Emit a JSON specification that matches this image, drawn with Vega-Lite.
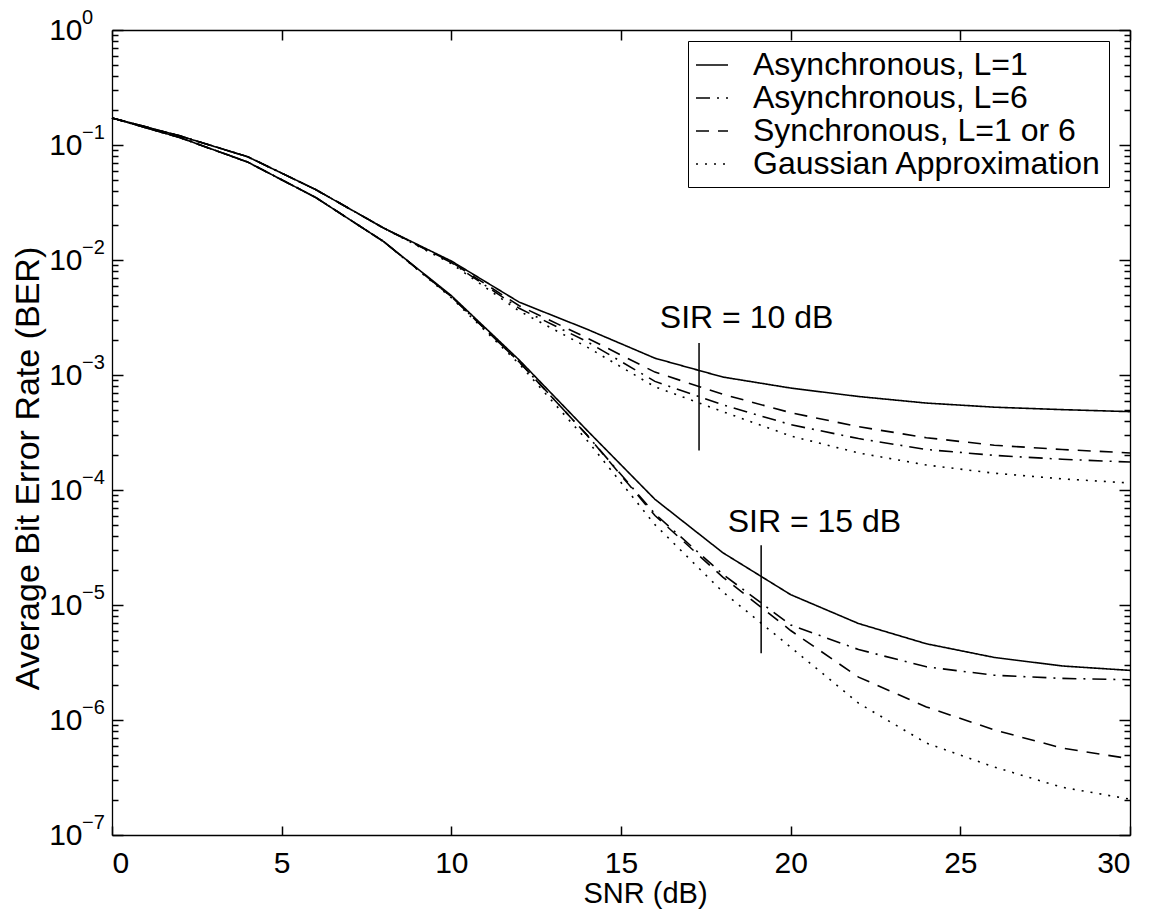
{
  "$schema": "https://vega.github.io/schema/vega-lite/v6.json",
  "width": 1018,
  "height": 805,
  "autosize": {"type": "none"},
  "padding": {"left": 112, "top": 30, "right": 29, "bottom": 81},
  "background": "white",
  "config": {
    "font": "Liberation Sans",
    "view": {"stroke": null},
    "axis": {
      "domainColor": "black", "tickColor": "black", "labelColor": "black", "titleColor": "black",
      "grid": false, "labelFont": "Liberation Sans", "titleFont": "Liberation Sans",
      "labelFontSize": 30, "titleFontSize": 30, "titleFontWeight": "normal",
      "domainWidth": 1.3, "tickWidth": 1.5, "ticks": true
    }
  },
  "datasets": {
    "curves": [
      {"snr": 0, "ber": 0.172, "series": "Asynchronous, L=1", "sir": "10"},
      {"snr": 2, "ber": 0.120, "series": "Asynchronous, L=1", "sir": "10"},
      {"snr": 4, "ber": 0.079, "series": "Asynchronous, L=1", "sir": "10"},
      {"snr": 6, "ber": 0.041, "series": "Asynchronous, L=1", "sir": "10"},
      {"snr": 8, "ber": 0.019, "series": "Asynchronous, L=1", "sir": "10"},
      {"snr": 10, "ber": 0.0098, "series": "Asynchronous, L=1", "sir": "10"},
      {"snr": 12, "ber": 0.0043, "series": "Asynchronous, L=1", "sir": "10"},
      {"snr": 14, "ber": 0.0025, "series": "Asynchronous, L=1", "sir": "10"},
      {"snr": 16, "ber": 0.0014, "series": "Asynchronous, L=1", "sir": "10"},
      {"snr": 18, "ber": 0.00096, "series": "Asynchronous, L=1", "sir": "10"},
      {"snr": 20, "ber": 0.00077, "series": "Asynchronous, L=1", "sir": "10"},
      {"snr": 22, "ber": 0.00065, "series": "Asynchronous, L=1", "sir": "10"},
      {"snr": 24, "ber": 0.00057, "series": "Asynchronous, L=1", "sir": "10"},
      {"snr": 26, "ber": 0.000525, "series": "Asynchronous, L=1", "sir": "10"},
      {"snr": 28, "ber": 0.0005, "series": "Asynchronous, L=1", "sir": "10"},
      {"snr": 30, "ber": 0.00048, "series": "Asynchronous, L=1", "sir": "10"},

      {"snr": 0, "ber": 0.172, "series": "Asynchronous, L=6", "sir": "10"},
      {"snr": 2, "ber": 0.120, "series": "Asynchronous, L=6", "sir": "10"},
      {"snr": 4, "ber": 0.079, "series": "Asynchronous, L=6", "sir": "10"},
      {"snr": 6, "ber": 0.041, "series": "Asynchronous, L=6", "sir": "10"},
      {"snr": 8, "ber": 0.019, "series": "Asynchronous, L=6", "sir": "10"},
      {"snr": 10, "ber": 0.0095, "series": "Asynchronous, L=6", "sir": "10"},
      {"snr": 12, "ber": 0.0038, "series": "Asynchronous, L=6", "sir": "10"},
      {"snr": 14, "ber": 0.00195, "series": "Asynchronous, L=6", "sir": "10"},
      {"snr": 16, "ber": 0.00088, "series": "Asynchronous, L=6", "sir": "10"},
      {"snr": 18, "ber": 0.00055, "series": "Asynchronous, L=6", "sir": "10"},
      {"snr": 20, "ber": 0.00037, "series": "Asynchronous, L=6", "sir": "10"},
      {"snr": 22, "ber": 0.00028, "series": "Asynchronous, L=6", "sir": "10"},
      {"snr": 24, "ber": 0.000225, "series": "Asynchronous, L=6", "sir": "10"},
      {"snr": 26, "ber": 0.0002, "series": "Asynchronous, L=6", "sir": "10"},
      {"snr": 28, "ber": 0.000185, "series": "Asynchronous, L=6", "sir": "10"},
      {"snr": 30, "ber": 0.000175, "series": "Asynchronous, L=6", "sir": "10"},

      {"snr": 0, "ber": 0.172, "series": "Synchronous, L=1 or 6", "sir": "10"},
      {"snr": 2, "ber": 0.120, "series": "Synchronous, L=1 or 6", "sir": "10"},
      {"snr": 4, "ber": 0.079, "series": "Synchronous, L=1 or 6", "sir": "10"},
      {"snr": 6, "ber": 0.041, "series": "Synchronous, L=1 or 6", "sir": "10"},
      {"snr": 8, "ber": 0.019, "series": "Synchronous, L=1 or 6", "sir": "10"},
      {"snr": 10, "ber": 0.0096, "series": "Synchronous, L=1 or 6", "sir": "10"},
      {"snr": 12, "ber": 0.0040, "series": "Synchronous, L=1 or 6", "sir": "10"},
      {"snr": 14, "ber": 0.0021, "series": "Synchronous, L=1 or 6", "sir": "10"},
      {"snr": 16, "ber": 0.00106, "series": "Synchronous, L=1 or 6", "sir": "10"},
      {"snr": 18, "ber": 0.00068, "series": "Synchronous, L=1 or 6", "sir": "10"},
      {"snr": 20, "ber": 0.00047, "series": "Synchronous, L=1 or 6", "sir": "10"},
      {"snr": 22, "ber": 0.000355, "series": "Synchronous, L=1 or 6", "sir": "10"},
      {"snr": 24, "ber": 0.000285, "series": "Synchronous, L=1 or 6", "sir": "10"},
      {"snr": 26, "ber": 0.000245, "series": "Synchronous, L=1 or 6", "sir": "10"},
      {"snr": 28, "ber": 0.000225, "series": "Synchronous, L=1 or 6", "sir": "10"},
      {"snr": 30, "ber": 0.00021, "series": "Synchronous, L=1 or 6", "sir": "10"},

      {"snr": 0, "ber": 0.172, "series": "Gaussian Approximation", "sir": "10"},
      {"snr": 2, "ber": 0.120, "series": "Gaussian Approximation", "sir": "10"},
      {"snr": 4, "ber": 0.079, "series": "Gaussian Approximation", "sir": "10"},
      {"snr": 6, "ber": 0.041, "series": "Gaussian Approximation", "sir": "10"},
      {"snr": 8, "ber": 0.019, "series": "Gaussian Approximation", "sir": "10"},
      {"snr": 10, "ber": 0.0093, "series": "Gaussian Approximation", "sir": "10"},
      {"snr": 12, "ber": 0.0036, "series": "Gaussian Approximation", "sir": "10"},
      {"snr": 14, "ber": 0.00175, "series": "Gaussian Approximation", "sir": "10"},
      {"snr": 16, "ber": 0.00079, "series": "Gaussian Approximation", "sir": "10"},
      {"snr": 18, "ber": 0.00048, "series": "Gaussian Approximation", "sir": "10"},
      {"snr": 20, "ber": 0.000295, "series": "Gaussian Approximation", "sir": "10"},
      {"snr": 22, "ber": 0.00021, "series": "Gaussian Approximation", "sir": "10"},
      {"snr": 24, "ber": 0.000165, "series": "Gaussian Approximation", "sir": "10"},
      {"snr": 26, "ber": 0.00014, "series": "Gaussian Approximation", "sir": "10"},
      {"snr": 28, "ber": 0.000125, "series": "Gaussian Approximation", "sir": "10"},
      {"snr": 30, "ber": 0.000115, "series": "Gaussian Approximation", "sir": "10"},

      {"snr": 0, "ber": 0.172, "series": "Asynchronous, L=1", "sir": "15"},
      {"snr": 2, "ber": 0.116, "series": "Asynchronous, L=1", "sir": "15"},
      {"snr": 4, "ber": 0.071, "series": "Asynchronous, L=1", "sir": "15"},
      {"snr": 6, "ber": 0.035, "series": "Asynchronous, L=1", "sir": "15"},
      {"snr": 8, "ber": 0.0145, "series": "Asynchronous, L=1", "sir": "15"},
      {"snr": 10, "ber": 0.0049, "series": "Asynchronous, L=1", "sir": "15"},
      {"snr": 12, "ber": 0.00135, "series": "Asynchronous, L=1", "sir": "15"},
      {"snr": 14, "ber": 0.00033, "series": "Asynchronous, L=1", "sir": "15"},
      {"snr": 16, "ber": 0.000083, "series": "Asynchronous, L=1", "sir": "15"},
      {"snr": 18, "ber": 0.0000285, "series": "Asynchronous, L=1", "sir": "15"},
      {"snr": 20, "ber": 0.0000123, "series": "Asynchronous, L=1", "sir": "15"},
      {"snr": 22, "ber": 0.0000069, "series": "Asynchronous, L=1", "sir": "15"},
      {"snr": 24, "ber": 0.0000046, "series": "Asynchronous, L=1", "sir": "15"},
      {"snr": 26, "ber": 0.0000035, "series": "Asynchronous, L=1", "sir": "15"},
      {"snr": 28, "ber": 0.00000295, "series": "Asynchronous, L=1", "sir": "15"},
      {"snr": 30, "ber": 0.0000027, "series": "Asynchronous, L=1", "sir": "15"},

      {"snr": 0, "ber": 0.172, "series": "Asynchronous, L=6", "sir": "15"},
      {"snr": 2, "ber": 0.116, "series": "Asynchronous, L=6", "sir": "15"},
      {"snr": 4, "ber": 0.071, "series": "Asynchronous, L=6", "sir": "15"},
      {"snr": 6, "ber": 0.035, "series": "Asynchronous, L=6", "sir": "15"},
      {"snr": 8, "ber": 0.0145, "series": "Asynchronous, L=6", "sir": "15"},
      {"snr": 10, "ber": 0.0048, "series": "Asynchronous, L=6", "sir": "15"},
      {"snr": 12, "ber": 0.0013, "series": "Asynchronous, L=6", "sir": "15"},
      {"snr": 14, "ber": 0.0003, "series": "Asynchronous, L=6", "sir": "15"},
      {"snr": 16, "ber": 0.000062, "series": "Asynchronous, L=6", "sir": "15"},
      {"snr": 18, "ber": 0.0000185, "series": "Asynchronous, L=6", "sir": "15"},
      {"snr": 20, "ber": 0.0000067, "series": "Asynchronous, L=6", "sir": "15"},
      {"snr": 22, "ber": 0.0000041, "series": "Asynchronous, L=6", "sir": "15"},
      {"snr": 24, "ber": 0.0000029, "series": "Asynchronous, L=6", "sir": "15"},
      {"snr": 26, "ber": 0.00000245, "series": "Asynchronous, L=6", "sir": "15"},
      {"snr": 28, "ber": 0.0000023, "series": "Asynchronous, L=6", "sir": "15"},
      {"snr": 30, "ber": 0.00000224, "series": "Asynchronous, L=6", "sir": "15"},

      {"snr": 0, "ber": 0.172, "series": "Synchronous, L=1 or 6", "sir": "15"},
      {"snr": 2, "ber": 0.116, "series": "Synchronous, L=1 or 6", "sir": "15"},
      {"snr": 4, "ber": 0.071, "series": "Synchronous, L=1 or 6", "sir": "15"},
      {"snr": 6, "ber": 0.035, "series": "Synchronous, L=1 or 6", "sir": "15"},
      {"snr": 8, "ber": 0.0145, "series": "Synchronous, L=1 or 6", "sir": "15"},
      {"snr": 10, "ber": 0.0048, "series": "Synchronous, L=1 or 6", "sir": "15"},
      {"snr": 12, "ber": 0.0013, "series": "Synchronous, L=1 or 6", "sir": "15"},
      {"snr": 14, "ber": 0.0003, "series": "Synchronous, L=1 or 6", "sir": "15"},
      {"snr": 16, "ber": 0.00006, "series": "Synchronous, L=1 or 6", "sir": "15"},
      {"snr": 18, "ber": 0.0000175, "series": "Synchronous, L=1 or 6", "sir": "15"},
      {"snr": 20, "ber": 0.000006, "series": "Synchronous, L=1 or 6", "sir": "15"},
      {"snr": 22, "ber": 0.00000236, "series": "Synchronous, L=1 or 6", "sir": "15"},
      {"snr": 24, "ber": 0.0000013, "series": "Synchronous, L=1 or 6", "sir": "15"},
      {"snr": 26, "ber": 0.00000082, "series": "Synchronous, L=1 or 6", "sir": "15"},
      {"snr": 28, "ber": 0.00000057, "series": "Synchronous, L=1 or 6", "sir": "15"},
      {"snr": 30, "ber": 0.00000046, "series": "Synchronous, L=1 or 6", "sir": "15"},

      {"snr": 0, "ber": 0.172, "series": "Gaussian Approximation", "sir": "15"},
      {"snr": 2, "ber": 0.116, "series": "Gaussian Approximation", "sir": "15"},
      {"snr": 4, "ber": 0.071, "series": "Gaussian Approximation", "sir": "15"},
      {"snr": 6, "ber": 0.035, "series": "Gaussian Approximation", "sir": "15"},
      {"snr": 8, "ber": 0.0145, "series": "Gaussian Approximation", "sir": "15"},
      {"snr": 10, "ber": 0.0047, "series": "Gaussian Approximation", "sir": "15"},
      {"snr": 12, "ber": 0.00125, "series": "Gaussian Approximation", "sir": "15"},
      {"snr": 14, "ber": 0.00027, "series": "Gaussian Approximation", "sir": "15"},
      {"snr": 16, "ber": 0.00005, "series": "Gaussian Approximation", "sir": "15"},
      {"snr": 18, "ber": 0.000013, "series": "Gaussian Approximation", "sir": "15"},
      {"snr": 20, "ber": 0.0000043, "series": "Gaussian Approximation", "sir": "15"},
      {"snr": 22, "ber": 0.0000014, "series": "Gaussian Approximation", "sir": "15"},
      {"snr": 24, "ber": 0.00000063, "series": "Gaussian Approximation", "sir": "15"},
      {"snr": 26, "ber": 0.00000039, "series": "Gaussian Approximation", "sir": "15"},
      {"snr": 28, "ber": 0.00000026, "series": "Gaussian Approximation", "sir": "15"},
      {"snr": 30, "ber": 0.000000205, "series": "Gaussian Approximation", "sir": "15"}
    ],
    "markers": [
      {"snr": 17.3, "top": 0.0019, "bottom": 0.00022},
      {"snr": 19.13, "top": 0.000033, "bottom": 0.0000038}
    ],
    "notes": [
      {"snr": 18.7, "ber": 0.0031, "label": "SIR = 10 dB"},
      {"snr": 20.7, "ber": 0.000053, "label": "SIR = 15 dB"}
    ],
    "exponents": [
      {"v": 1, "e": "0"},
      {"v": 0.1, "e": "−1"},
      {"v": 0.01, "e": "−2"},
      {"v": 0.001, "e": "−3"},
      {"v": 0.0001, "e": "−4"},
      {"v": 0.00001, "e": "−5"},
      {"v": 0.000001, "e": "−6"},
      {"v": 0.0000001, "e": "−7"}
    ]
  },
  "layer": [
    {
      "data": {"name": "curves"},
      "mark": {"type": "line", "strokeWidth": 1.6, "color": "black"},
      "encoding": {
        "x": {
          "field": "snr", "type": "quantitative",
          "scale": {"domain": [0, 30], "nice": false, "zero": false},
          "axis": {"orient": "bottom", "title": "SNR (dB)", "values": [0, 5, 10, 15, 20, 25, 30],
                   "ticks": true, "tickSize": -9, "labelPadding": 22,
                   "titleFontSize": 29, "titleX": 533, "titleY": 58, "titleBaseline": "middle", "titleAlign": "center"}
        },
        "y": {
          "field": "ber", "type": "quantitative",
          "scale": {"type": "log", "domain": [1e-7, 1], "nice": false},
          "axis": {
            "orient": "left", "title": "Average Bit Error Rate (BER)",
            "values": [1e-7,2e-7,3e-7,4e-7,5e-7,6e-7,7e-7,8e-7,9e-7,1e-6,2e-6,3e-6,4e-6,5e-6,6e-6,7e-6,8e-6,9e-6,1e-5,2e-5,3e-5,4e-5,5e-5,6e-5,7e-5,8e-5,9e-5,1e-4,2e-4,3e-4,4e-4,5e-4,6e-4,7e-4,8e-4,9e-4,0.001,0.002,0.003,0.004,0.005,0.006,0.007,0.008,0.009,0.01,0.02,0.03,0.04,0.05,0.06,0.07,0.08,0.09,0.1,0.2,0.3,0.4,0.5,0.6,0.7,0.8,0.9,1],
            "labelExpr": "abs(log(datum.value)/LN10 - round(log(datum.value)/LN10)) < 0.001 ? '10' : ''",
            "ticks": true,
            "tickSize": {"condition": {"test": "abs(log(datum.value)/LN10 - round(log(datum.value)/LN10)) < 0.001", "value": -11}, "value": -6},
            "labelPadding": 41, "labelBaseline": "middle",
            "titleFontSize": 34, "titleX": -84, "titleY": 438, "titleBaseline": "middle", "titleAlign": "center", "titleAngle": 270
          }
        },
        "strokeDash": {
          "field": "series", "type": "nominal",
          "scale": {
            "domain": ["Asynchronous, L=1", "Asynchronous, L=6", "Synchronous, L=1 or 6", "Gaussian Approximation"],
            "range": [[1, 0], [14, 7, 2, 7], [13, 9], [2, 7]]
          },
          "legend": {
            "orient": "none", "legendX": 576, "legendY": 11, "title": null,
            "symbolType": "stroke", "symbolSize": 1024, "symbolStrokeWidth": 1.6,
            "symbolStrokeColor": "black", "labelFontSize": 32, "labelFont": "Liberation Sans",
            "labelColor": "black", "labelOffset": 24, "padding": 7, "rowPadding": 0,
            "strokeColor": "black", "fillColor": "white", "labelLimit": 500
          }
        },
        "detail": {"field": "sir", "type": "nominal"}
      }
    },
    {
      "data": {"name": "markers"},
      "mark": {"type": "rule", "strokeWidth": 1.5, "color": "black"},
      "encoding": {
        "x": {
          "field": "snr", "type": "quantitative",
          "scale": {"domain": [0, 30], "nice": false, "zero": false},
          "axis": {"orient": "top", "labels": false, "title": null, "values": [0, 5, 10, 15, 20, 25, 30], "ticks": true, "tickSize": -10}
        },
        "y": {
          "field": "top", "type": "quantitative",
          "scale": {"type": "log", "domain": [1e-7, 1], "nice": false},
          "axis": {
            "orient": "right", "labels": false, "title": null, "ticks": true,
            "values": [1e-7,2e-7,3e-7,4e-7,5e-7,6e-7,7e-7,8e-7,9e-7,1e-6,2e-6,3e-6,4e-6,5e-6,6e-6,7e-6,8e-6,9e-6,1e-5,2e-5,3e-5,4e-5,5e-5,6e-5,7e-5,8e-5,9e-5,1e-4,2e-4,3e-4,4e-4,5e-4,6e-4,7e-4,8e-4,9e-4,0.001,0.002,0.003,0.004,0.005,0.006,0.007,0.008,0.009,0.01,0.02,0.03,0.04,0.05,0.06,0.07,0.08,0.09,0.1,0.2,0.3,0.4,0.5,0.6,0.7,0.8,0.9,1],
            "tickSize": {"condition": {"test": "abs(log(datum.value)/LN10 - round(log(datum.value)/LN10)) < 0.001", "value": -11}, "value": -6}
          }
        },
        "y2": {"field": "bottom"}
      }
    },
    {
      "data": {"name": "notes"},
      "mark": {"type": "text", "fontSize": 32, "font": "Liberation Sans", "color": "black", "align": "center", "baseline": "middle"},
      "encoding": {
        "x": {"field": "snr", "type": "quantitative", "axis": null},
        "y": {"field": "ber", "type": "quantitative", "axis": null},
        "text": {"field": "label"}
      }
    },
    {
      "data": {"name": "exponents"},
      "mark": {"type": "text", "fontSize": 20, "font": "Liberation Sans", "color": "black", "align": "left", "baseline": "middle", "dx": -30, "dy": -12},
      "encoding": {
        "x": {"datum": 0, "type": "quantitative", "axis": null},
        "y": {"field": "v", "type": "quantitative", "axis": null},
        "text": {"field": "e"}
      }
    }
  ],
  "resolve": {"axis": {"x": "independent", "y": "independent"}}
}
